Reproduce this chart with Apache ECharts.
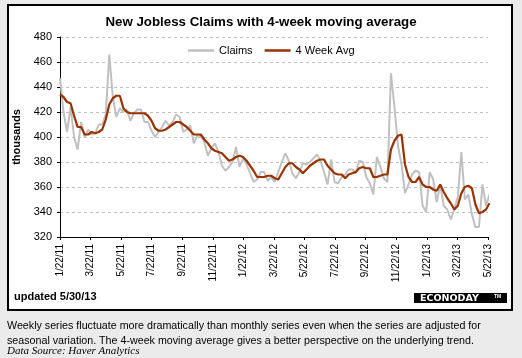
<!DOCTYPE html>
<html>
<head>
<meta charset="utf-8">
<script src="https://cdn.jsdelivr.net/npm/echarts@6/dist/echarts.min.js"></script>
<style>
html,body{margin:0;padding:0;background:#ebebeb;}
#chart{width:522px;height:358px;}
</style>
</head>
<body>
<div id="chart"></div>
<script>
// Weekly new jobless claims (thousands), week ending 1/22/11 ... 5/25/13
const claims = [
447,420,404,424,400,390,412,400,406,402,403,410,410,418,466,432,416,423,420,422,
413,419,422,422,412,412,405,400,404,408,413,409,412,418,416,404,406,409,395,401,
401,396,385,391,395,388,377,373,376,380,392,376,383,378,371,364,366,372,372,365,
368,364,372,380,387,381,371,367,372,379,378,380,383,386,381,372,362,382,364,363,
368,370,374,374,371,381,380,368,363,354,384,376,367,364,451,424,393,378,355,362,
370,373,372,345,340,372,366,348,362,345,342,334,342,352,388,350,354,338,328,328,
362,345,354
];
const avg4 = [
434,432,428,427,417,408,408,402,402,404,403,404,406,414,426,431,433,433,423,420,
419,419,419,419,419,417,413,407,405,405,406,408,410,412,412,410,408,405,402,402,
402,398,395,391,389,388,387,384,381,382,384,385,384,381,377,373,368,368,368,369,
369,367,366,371,376,379,379,376,374,371,374,377,379,381,382,382,377,374,371,370,
370,367,370,371,372,375,376,375,375,368,368,369,370,370,390,397,401,402,378,368,
364,364,368,362,360,360,358,357,362,356,351,347,342,345,355,360,361,359,346,339,
340,342,347
];
const tickLabels = ['1/22/11','3/22/11','5/22/11','7/22/11','9/22/11','11/22/11',
  '1/22/12','3/22/12','5/22/12','7/22/12','9/22/12','11/22/12','1/22/13','3/22/13','5/22/13'];
const yMin = 320, yMax = 480, yStep = 20;
const spanDays = 851; // 1/22/11 -> 5/22/13
const tickStep = spanDays / (tickLabels.length - 1);

const dayOf = i => i * 7; // days since first week-ending date
const claimsData = claims.map((v, i) => [dayOf(i), v]);
const avgData = avg4.map((v, i) => [dayOf(i), v]);

const FONT = 'Liberation Sans, Arial, sans-serif';
const chart = echarts.init(document.getElementById('chart'), null, {renderer: 'canvas'});
chart.setOption({
  backgroundColor: '#ebebeb',
  animation: false,
  title: {
    text: 'New Jobless Claims with 4-week moving average',
    left: 'center', top: 11,
    textStyle: {fontFamily: FONT, fontSize: 13.3, fontWeight: 'bold', color: '#000'}
  },
  legend: {
    left: 183, top: 40,
    icon: 'rect',
    itemWidth: 26, itemHeight: 2.5, itemGap: 12,
    textStyle: {fontFamily: FONT, fontSize: 11, color: '#000'},
    data: ['Claims', '4 Week Avg']
  },
  grid: {left: 60, right: 34, top: 37, bottom: 121},
  xAxis: {
    type: 'value', min: 0, max: spanDays, interval: tickStep,
    axisLine: {show: true, lineStyle: {color: '#000', width: 1}},
    axisTick: {show: true, length: 3, lineStyle: {color: '#000'}},
    splitLine: {show: false},
    axisLabel: {
      rotate: 90, margin: 7, fontFamily: FONT, fontSize: 10, color: '#000',
      showMaxLabel: true, showMinLabel: true,
      formatter: v => tickLabels[Math.round(v / tickStep)] || ''
    }
  },
  yAxis: {
    type: 'value', min: yMin, max: yMax, interval: yStep,
    name: 'thousands', nameLocation: 'middle', nameGap: 37,
    nameTextStyle: {fontFamily: FONT, fontSize: 11, fontWeight: 'bold', color: '#000'},
    axisLine: {show: true, lineStyle: {color: '#000', width: 1}},
    axisTick: {show: true, length: 3, lineStyle: {color: '#000'}},
    splitLine: {show: true, lineStyle: {color: '#c0c0c0', type: [3, 3], width: 1}},
    axisLabel: {margin: 8, fontFamily: FONT, fontSize: 11, color: '#000'}
  },
  series: [
    {name: 'Claims', type: 'line', data: claimsData, showSymbol: false, symbol: 'none',
     clip: false, lineStyle: {color: '#c0c0c0', width: 2}, itemStyle: {color: '#c0c0c0'}, z: 2},
    {name: '4 Week Avg', type: 'line', data: avgData, showSymbol: false, symbol: 'none',
     clip: false, lineStyle: {color: '#993300', width: 2.2}, itemStyle: {color: '#993300'}, z: 3}
  ],
  graphic: [
    {type: 'rect', z: -10, shape: {x: 8, y: 5, width: 504, height: 305},
     style: {fill: '#fff', stroke: '#000', lineWidth: 2}},
    {type: 'text', left: 14, top: 291,
     style: {text: 'updated 5/30/13', fontFamily: FONT, fontSize: 11, fontWeight: 'bold', fill: '#000'}},
    {type: 'rect', shape: {x: 414, y: 293, width: 93, height: 10}, style: {fill: '#000'}},
    {type: 'text', left: 420, top: 293.5,
     style: {text: 'ECONODAY', fontFamily: 'DejaVu Sans, sans-serif', fontSize: 9.5, fontWeight: 'bold', fill: '#fff'}},
    {type: 'text', left: 494, top: 294,
     style: {text: 'TM', fontFamily: FONT, fontSize: 5, fontWeight: 'bold', fill: '#fff'}},
    {type: 'text', left: 7, top: 319,
     style: {text: 'Weekly series fluctuate more dramatically than monthly series even when the series are adjusted for\nseasonal variation. The 4-week moving average gives a better perspective on the underlying trend.',
       fontFamily: FONT, fontSize: 10.7, lineHeight: 14.5, fill: '#000'}},
    {type: 'text', left: 7, top: 346,
     style: {text: 'Data Source: Haver Analytics', fontFamily: 'Liberation Serif, Times New Roman, serif',
       fontSize: 11, fontStyle: 'italic', fill: '#000'}}
  ]
});
</script>
</body>
</html>
